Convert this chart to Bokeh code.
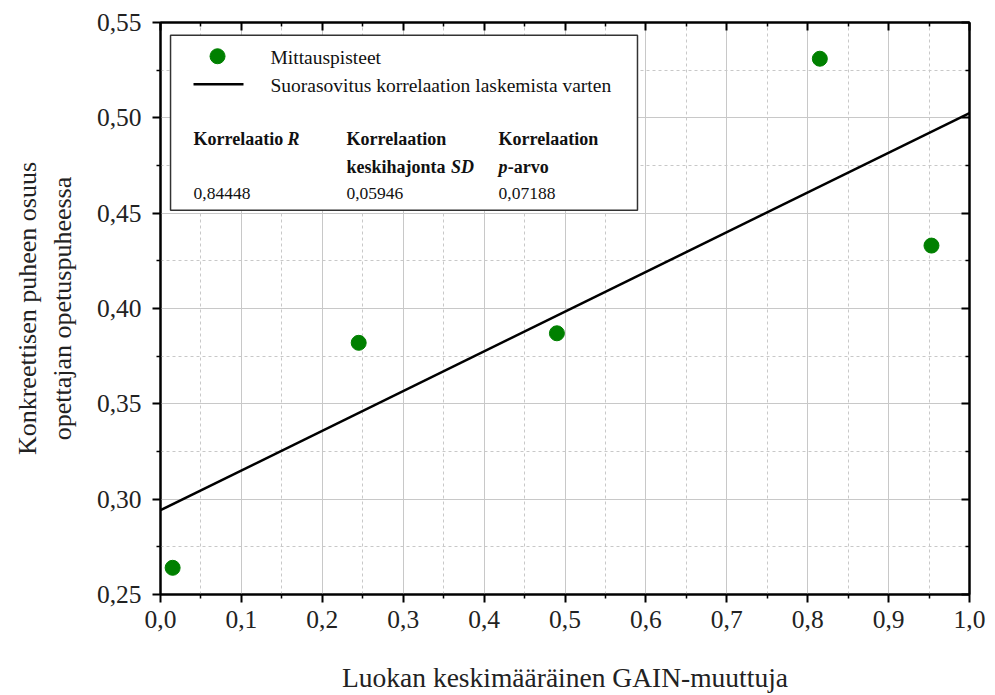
from bokeh.plotting import figure
from bokeh.models import LinearAxis, FixedTicker, CustomJSTickFormatter, Range1d
from bokeh.core.properties import value
from bokeh.embed import file_html
from bokeh.resources import INLINE

# ---- data ----
gain = [0.015, 0.245, 0.490, 0.815, 0.953]          # Luokan keskimääräinen GAIN-muuttuja
konkr = [0.264, 0.382, 0.387, 0.531, 0.433]         # Konkreettisen puheen osuus
fit_x = [0.0, 1.0]                                  # Suorasovitus
fit_y = [0.2942, 0.5025]
x_ticks = [0.0, 0.1, 0.2, 0.3, 0.4, 0.5, 0.6, 0.7, 0.8, 0.9, 1.0]
x_minor = [0.05, 0.15, 0.25, 0.35, 0.45, 0.55, 0.65, 0.75, 0.85, 0.95]
y_ticks = [0.25, 0.30, 0.35, 0.40, 0.45, 0.50, 0.55]
y_minor = [0.275, 0.325, 0.375, 0.425, 0.475, 0.525]
legend_labels = ["Mittauspisteet", "Suorasovitus korrelaation laskemista varten"]
stat_values = ["0,84448", "0,05946", "0,07188"]

FONT = "Liberation Serif"
GRID = "#c8c8c8"

p = figure(width=995, height=695,
           x_range=Range1d(0, 1), y_range=Range1d(0.25, 0.55),
           output_backend="svg", toolbar_location=None,
           min_border_left=160, min_border_right=26,
           min_border_top=22, min_border_bottom=100,
           x_axis_label="Luokan keskimääräinen GAIN-muuttuja",
           y_axis_label="Konkreettisen puheen osuus\nopettajan opetuspuheessa")
p.outline_line_color = "black"
p.outline_line_width = 2
p.background_fill_color = "white"
p.border_fill_color = "white"

xfmt = CustomJSTickFormatter(code="return tick.toFixed(1).replace('.', ',');")
yfmt = CustomJSTickFormatter(code="return tick.toFixed(2).replace('.', ',');")
blank = CustomJSTickFormatter(code="return '';")

def style_axis(ax, ticks, minor, fmt, outside):
    ax.ticker = FixedTicker(ticks=ticks, minor_ticks=minor)
    ax.formatter = fmt
    ax.axis_line_width = 2
    ax.axis_line_color = "black"
    ax.major_tick_line_width = 2
    ax.minor_tick_line_width = 1.5
    ax.major_tick_line_color = "black"
    ax.minor_tick_line_color = "black"
    if outside:
        ax.major_tick_out = 8
        ax.major_tick_in = 0
        ax.minor_tick_out = 4
        ax.minor_tick_in = 0
    else:
        ax.major_tick_out = 0
        ax.major_tick_in = 8
        ax.minor_tick_out = 0
        ax.minor_tick_in = 4
    ax.major_label_text_font = FONT
    ax.major_label_text_font_size = "25.5px"
    ax.major_label_text_color = "#222222"
    ax.axis_label_text_font = FONT
    ax.axis_label_text_font_style = "normal"
    ax.axis_label_text_color = "#222222"

xa = p.xaxis[0]
ya = p.yaxis[0]
style_axis(xa, x_ticks, x_minor, xfmt, True)
style_axis(ya, y_ticks, y_minor, yfmt, True)
xa.axis_label_text_font_size = "27.5px"
ya.axis_label_text_font_size = "26px"
xa.major_label_standoff = 8
xa.axis_label_standoff = 31
ya.major_label_standoff = 11
ya.axis_label_standoff = 17

top = LinearAxis()
right = LinearAxis()
for ax, t, m in ((top, x_ticks, x_minor), (right, y_ticks, y_minor)):
    style_axis(ax, t, m, blank, False)
    ax.major_label_text_font_size = "1px"
    ax.major_label_standoff = 0
p.add_layout(top, "above")
p.add_layout(right, "right")

p.xgrid.ticker = FixedTicker(ticks=x_ticks, minor_ticks=x_minor)
p.ygrid.ticker = FixedTicker(ticks=y_ticks, minor_ticks=y_minor)
for g in (p.xgrid[0], p.ygrid[0]):
    g.grid_line_color = GRID
    g.grid_line_width = 1
    g.minor_grid_line_color = GRID
    g.minor_grid_line_width = 1
    g.minor_grid_line_dash = "3 3"

# fit line and data points
p.line(fit_x, fit_y, line_color="black", line_width=2.5)
p.scatter(gain, konkr, size=15, fill_color="#008000", line_color="#008000", marker="circle")

# ---- legend / statistics box ----
p.quad(left=[0.0124], right=[0.5896], top=[0.5433], bottom=[0.4515],
       fill_color="white", line_color="#333333", line_width=1.5)
p.scatter([0.0705], [0.5323], size=15, fill_color="#008000", line_color="#008000", marker="circle")
p.line([0.0408, 0.1026], [0.5176, 0.5176], line_color="black", line_width=2.5)
common = dict(text_font=value(FONT), text_baseline="middle", text_align="left", text_color="#111111")
p.text(x=[0.136, 0.136], y=[0.5318, 0.5172], text=legend_labels, text_font_size="19.5px", **common)

p.text(x=[0.0408, 0.2299, 0.4178], y=[0.4887] * 3,
       text=["Korrelaatio", "Korrelaation", "Korrelaation"],
       text_font_size="18px", text_font_style="bold", **common)
p.text(x=[0.157], y=[0.4887], text=["R"], text_font_size="18px",
       text_font_style="bold italic", **common)
p.text(x=[0.2299], y=[0.4740], text=["keskihajonta"], text_font_size="18px",
       text_font_style="bold", **common)
p.text(x=[0.359, 0.4178], y=[0.4740, 0.4740], text=["SD", "p"], text_font_size="18px",
       text_font_style="bold italic", **common)
p.text(x=[0.4292], y=[0.4740], text=["-arvo"], text_font_size="18px",
       text_font_style="bold", **common)
p.text(x=[0.0408, 0.2299, 0.4178], y=[0.4604] * 3, text=stat_values,
       text_font_size="17.5px", **common)

open("out.html", "w").write(file_html(p, INLINE))
